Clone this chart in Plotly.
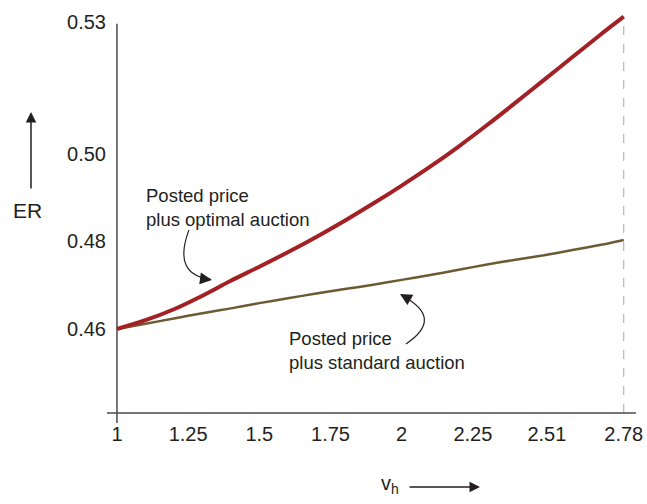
import plotly.graph_objects as go

# ---- data ----
vh = [1.0, 1.1, 1.2, 1.3, 1.4, 1.5, 1.6, 1.7, 1.8, 1.9, 2.0, 2.1, 2.2, 2.3, 2.4, 2.5, 2.6, 2.7, 2.78]
er_optimal = [0.4600, 0.4620, 0.4645, 0.4676, 0.4710, 0.4742, 0.4775, 0.4810, 0.4847, 0.4886,
              0.4927, 0.4970, 0.5016, 0.5065, 0.5116, 0.5168, 0.5220, 0.5272, 0.5312]
er_standard = [0.4600, 0.4612, 0.4624, 0.4636, 0.4647, 0.4659, 0.4670, 0.4681, 0.4691, 0.4701,
               0.4712, 0.4723, 0.4735, 0.4747, 0.4758, 0.4768, 0.4780, 0.4792, 0.4803]
x_ticks = [1, 1.25, 1.5, 1.75, 2, 2.25, 2.51, 2.78]
x_tick_text = ["1", "1.25", "1.5", "1.75", "2", "2.25", "2.51", "2.78"]
y_ticks = [0.46, 0.48, 0.50, 0.53]
y_tick_text = ["0.46", "0.48", "0.50", "0.53"]

label_optimal = "Posted price<br>plus optimal auction"
label_standard = "Posted price<br>plus standard auction"

# ---- styles ----
FONT = "Liberation Sans, Arial, Helvetica, sans-serif"
TXT = "#231f20"
RED = "#a32024"
BROWN = "#6e5a32"
AXIS = "#4a4a4a"
X_RANGE = [0.965, 2.823]
Y_RANGE = [0.44085, 0.5325]

fig = go.Figure()
fig.add_trace(go.Scatter(x=vh, y=er_standard, mode="lines",
                         line=dict(color=BROWN, width=2.5, shape="spline", smoothing=0.6),
                         hoverinfo="skip"))
fig.add_trace(go.Scatter(x=vh, y=er_optimal, mode="lines",
                         line=dict(color=RED, width=4, shape="spline", smoothing=0.8),
                         hoverinfo="skip"))

shapes = [
    # x axis line
    dict(type="line", xref="paper", yref="paper", x0=0, x1=1, y0=0, y1=0,
         line=dict(color=AXIS, width=1.5)),
    # y axis line at v_h = 1
    dict(type="line", xref="x", yref="paper", x0=vh[0], x1=vh[0], y0=-0.025, y1=0.968,
         line=dict(color=AXIS, width=1.5)),
    # dashed drop line at the last v_h
    dict(type="line", xref="x", yref="y", x0=vh[-1], x1=vh[-1], y0=Y_RANGE[0], y1=er_optimal[-1],
         line=dict(color="#a8a8a8", width=1, dash="dash"), layer="below"),
    # curved annotation arrows
    dict(type="path", xref="x", yref="y",
         path="M 1.2529,0.4826 Q 1.1932,0.4723 1.3300,0.4713",
         line=dict(color=TXT, width=1.2)),
    dict(type="path", xref="x", yref="y",
         path="M 2.0151,0.4566 Q 2.1521,0.4625 1.9990,0.4677",
         line=dict(color=TXT, width=1.2)),
]

annotations = [
    dict(x=1.095, y=0.4878, xref="x", yref="y", text=label_optimal, showarrow=False,
         xanchor="left", yanchor="middle", align="left", font=dict(size=18.5, color=TXT, family=FONT)),
    dict(x=1.597, y=0.4552, xref="x", yref="y", text=label_standard, showarrow=False,
         xanchor="left", yanchor="middle", align="left", font=dict(size=18.5, color=TXT, family=FONT)),
    # arrowheads of curved arrows
    dict(x=1.3337, y=0.4712, xref="x", yref="y", text="", showarrow=True,
         ax=-8, ay=-1, arrowhead=2, arrowsize=2, arrowwidth=1.2, arrowcolor=TXT, standoff=0),
    dict(x=1.9940, y=0.4680, xref="x", yref="y", text="", showarrow=True,
         ax=7, ay=4, arrowhead=2, arrowsize=2, arrowwidth=1.2, arrowcolor=TXT, standoff=0),
    # ER axis label and arrow
    dict(x=-0.1503, y=0.5025, xref="paper", yref="paper", text="ER", showarrow=False,
         xanchor="center", yanchor="middle", font=dict(size=21, color=TXT, family=FONT)),
    dict(x=-0.1437, y=0.7488, xref="paper", yref="paper", text="", showarrow=True,
         ax=0, ay=78, arrowhead=2, arrowsize=1.4, arrowwidth=1.5, arrowcolor=TXT, standoff=0),
    # v_h axis label and arrow
    dict(x=0.556, y=-0.178, xref="paper", yref="paper", text="v<sub>h</sub>", showarrow=False,
         xanchor="right", yanchor="middle", font=dict(size=20, color=TXT, family=FONT)),
    dict(x=0.7051, y=-0.1841, xref="paper", yref="paper", text="", showarrow=True,
         ax=-72, ay=0, arrowhead=2, arrowsize=1.4, arrowwidth=1.5, arrowcolor=TXT, standoff=0),
]

fig.update_layout(
    width=647, height=504,
    margin=dict(l=107, r=11, t=11, b=91),
    paper_bgcolor="white", plot_bgcolor="white",
    showlegend=False,
    shapes=shapes, annotations=annotations,
    font=dict(family=FONT, color=TXT),
)
fig.update_xaxes(range=X_RANGE, tickmode="array", tickvals=x_ticks, ticktext=x_tick_text,
                 showgrid=False, zeroline=False, showline=False, automargin=False,
                 ticks="outside", ticklen=3, tickcolor="rgba(0,0,0,0)",
                 tickfont=dict(size=20, color=TXT, family=FONT))
fig.update_yaxes(range=Y_RANGE, tickmode="array", tickvals=y_ticks, ticktext=y_tick_text,
                 showgrid=False, zeroline=False, showline=False, automargin=False,
                 ticks="",
                 tickfont=dict(size=20, color=TXT, family=FONT))

fig.write_html("out.html", config={"displayModeBar": False},
               post_script="document.body.style.margin='0';document.body.style.overflow='hidden';")
